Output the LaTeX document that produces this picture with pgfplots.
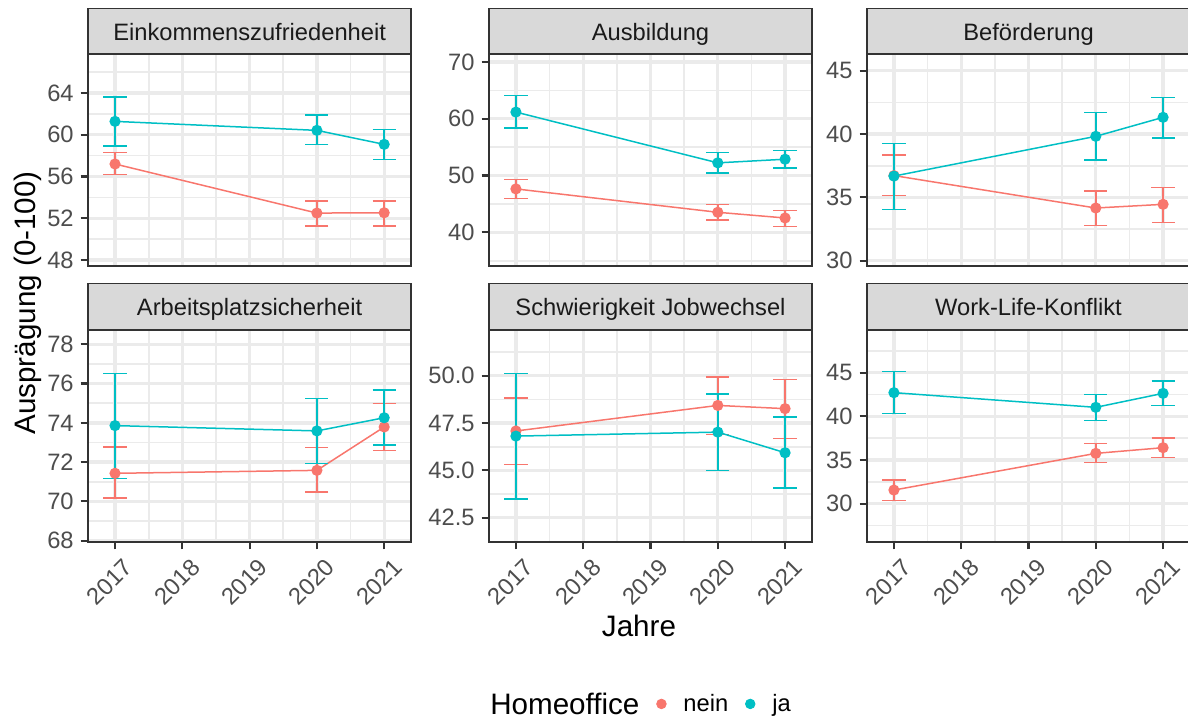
\documentclass[border=0pt]{standalone}
\usepackage{fontspec}
\setmainfont{Liberation Sans}
\usepackage{pgfplots}
\pgfplotsset{compat=1.18}
\definecolor{cnein}{HTML}{F8766D}
\definecolor{cja}{HTML}{00BFC4}
\definecolor{gridc}{HTML}{EBEBEB}
\definecolor{gray20}{HTML}{333333}
\definecolor{gray30}{HTML}{4D4D4D}
\definecolor{stripfill}{HTML}{D9D9D9}
\definecolor{gray10}{HTML}{1A1A1A}
\newcommand{\ticksize}{\fontsize{11.85}{14}\selectfont}
\newcommand{\titlesize}{\fontsize{14.8}{17}\selectfont}
\pgfplotsset{
 panel/.style={
  width=161.5pt, height=106.25pt, scale only axis, anchor=north west,
  xmin=2016.6, xmax=2021.4,
  xtick={2017,2018,2019,2020,2021},
  minor xtick={2017.5,2018.5,2019.5,2020.5},
  grid=both,
  major grid style={line width=1.65pt, color=gridc},
  minor grid style={line width=0.85pt, color=gridc},
  axis line style={line width=1.1pt, color=gray20},
  tick align=outside, major tick length=3.7pt, minor tick length=0pt,
  tick style={line width=1.1pt, color=gray20},
  xtick pos=bottom, ytick pos=left,
  tick label style={font=\ticksize, color=gray30},
  /pgf/number format/assume math mode=true,
  /pgf/number format/1000 sep={},
 },
 toprow/.style={xticklabels={}, xtick style={draw=none}},
 bottomrow/.style={xticklabel style={rotate=45, anchor=north east, inner sep=0pt, xshift=0pt, yshift=-5.3pt}},
 nein/.style={color=cnein, line width=0.75pt, mark=*, mark size=2.4pt,
  mark options={draw=none, fill=cnein},
  error bars/.cd, y dir=both, y explicit,
  error bar style={line width=0.75pt, color=cnein},
  error mark options={rotate=90, line width=0.75pt, mark size=5.8pt, color=cnein}},
 ja/.style={color=cja, line width=0.75pt, mark=*, mark size=2.4pt,
  mark options={draw=none, fill=cja},
  error bars/.cd, y dir=both, y explicit,
  error bar style={line width=0.75pt, color=cja},
  error mark options={rotate=90, line width=0.75pt, mark size=5.8pt, color=cja}},
}
\begin{document}
\begin{tikzpicture}[x=1pt,y=1pt]
\useasboundingbox (0,0) rectangle (594,-360);
% Panel 1
\begin{axis}[panel, toprow, at={(44.05pt,-26.75pt)},
  ymin=47.43, ymax=67.78, ytick={48,52,56,60,64}, minor ytick={50,54,58,62,66}]
\addplot[nein] coordinates {(2017,57.2) += (0,1.08) -= (0,1.03) (2020,52.5) += (0,1.15) -= (0,1.22) (2021,52.53) += (0,1.12) -= (0,1.25)};
\addplot[ja] coordinates {(2017,61.28) += (0,2.34) -= (0,2.36) (2020,60.42) += (0,1.47) -= (0,1.37) (2021,59.08) += (0,1.44) -= (0,1.47)};
\end{axis}
% Panel 2
\begin{axis}[panel, toprow, at={(244.5pt,-26.75pt)},
  ymin=34.07, ymax=71.5, ytick={40,50,60,70}, minor ytick={35,45,55,65}]
\addplot[nein] coordinates {(2017,47.65) += (0,1.64) -= (0,1.65) (2020,43.53) += (0,1.35) -= (0,1.35) (2021,42.53) += (0,1.35) -= (0,1.47)};
\addplot[ja] coordinates {(2017,61.18) += (0,2.88) -= (0,2.83) (2020,52.24) += (0,1.82) -= (0,1.83) (2021,52.88) += (0,1.53) -= (0,1.59)};
\end{axis}
% Panel 3
\begin{axis}[panel, toprow, at={(433.5pt,-26.75pt)},
  ymin=29.58, ymax=46.36, ytick={30,35,40,45}, minor ytick={32.5,37.5,42.5}]
\addplot[nein] coordinates {(2017,36.72) += (0,1.62) -= (0,1.56) (2020,34.16) += (0,1.34) -= (0,1.37) (2021,34.45) += (0,1.34) -= (0,1.42)};
\addplot[ja] coordinates {(2017,36.68) += (0,2.58) -= (0,2.65) (2020,39.82) += (0,1.89) -= (0,1.87) (2021,41.32) += (0,1.57) -= (0,1.64)};
\end{axis}
% Panel 4
\begin{axis}[panel, bottomrow, at={(44.05pt,-164.75pt)},
  ymin=67.93, ymax=78.755, ytick={68,70,72,74,76,78}, minor ytick={69,71,73,75,77}]
\addplot[nein] coordinates {(2017,71.43) += (0,1.34) -= (0,1.27) (2020,71.58) += (0,1.16) -= (0,1.10) (2021,73.79) += (0,1.19) -= (0,1.21)};
\addplot[ja] coordinates {(2017,73.86) += (0,2.66) -= (0,2.70) (2020,73.59) += (0,1.66) -= (0,1.65) (2021,74.26) += (0,1.41) -= (0,1.39)};
\end{axis}
% Panel 5
\begin{axis}[panel, bottomrow, at={(244.5pt,-164.75pt)},
  ymin=41.215, ymax=52.44, ytick={42.5,45,47.5,50}, minor ytick={43.75,46.25,48.75,51.25},
  yticklabel style={/pgf/number format/.cd, fixed, fixed zerofill, precision=1},
  legend style={draw=none, fill=none, at={(0.469,-0.762)}, anchor=center,
    legend columns=-1, font=\ticksize, text=black,
    nodes={inner sep=0pt},
    /tikz/every even column/.append style={column sep=0pt},
    /tikz/every odd column/.append style={column sep=0pt}},
  legend image code/.code={\path[draw=none, fill=none] (0pt,-2pt) rectangle (22pt,2pt); \draw[#1] plot coordinates {(11pt,0pt)};}]
\addplot[forget plot, nein] coordinates {(2017,47.08) += (0,1.74) -= (0,1.76) (2020,48.43) += (0,1.50) -= (0,1.53) (2021,48.26) += (0,1.53) -= (0,1.59)};
\addplot[forget plot, ja] coordinates {(2017,46.81) += (0,3.30) -= (0,3.31) (2020,47.02) += (0,2.01) -= (0,2.04) (2021,45.93) += (0,1.90) -= (0,1.85)};
\addlegendimage{empty legend}
\addlegendentry{\raisebox{-1.6pt}{\titlesize Homeoffice}}
\addlegendimage{only marks, mark=*, mark size=2.4pt, color=cnein, mark options={draw=none, fill=cnein}}
\addlegendentry{nein}
\addlegendimage{only marks, mark=*, mark size=2.4pt, color=cja, mark options={draw=none, fill=cja}}
\addlegendentry{ja}
\end{axis}
% Panel 6
\begin{axis}[panel, bottomrow, at={(433.5pt,-164.75pt)},
  ymin=25.61, ymax=49.94, ytick={30,35,40,45}, minor ytick={27.5,32.5,37.5,42.5,47.5}]
\addplot[nein] coordinates {(2017,31.56) += (0,1.15) -= (0,1.18) (2020,35.76) += (0,1.11) -= (0,1.07) (2021,36.41) += (0,1.11) -= (0,1.10)};
\addplot[ja] coordinates {(2017,42.71) += (0,2.40) -= (0,2.37) (2020,41.03) += (0,1.45) -= (0,1.49) (2021,42.63) += (0,1.42) -= (0,1.37)};
\end{axis}
% strips
\foreach \x/\t in {44.05/Einkommenszufriedenheit, 244.5/Ausbildung, 433.5/Beförderung} {
  \draw[fill=stripfill, draw=gray20, line width=0.8pt] (\x,-4.15) rectangle (\x+161.5,-26.75);
  \node[text=gray10, font=\ticksize, anchor=base, inner sep=0pt] at (\x+80.75,-20.35) {\t};
}
\foreach \x/\t in {44.05/Arbeitsplatzsicherheit, 244.5/Schwierigkeit Jobwechsel, 433.5/Work-Life-Konflikt} {
  \draw[fill=stripfill, draw=gray20, line width=0.8pt] (\x,-141.65) rectangle (\x+161.5,-164.75);
  \node[text=gray10, font=\ticksize, anchor=base, inner sep=0pt] at (\x+80.75,-157.85) {\t};
}
\node[font=\titlesize, rotate=90, anchor=center, inner sep=0pt] at (14,-151.5) {Ausprägung (0-100)};
\node[font=\titlesize, anchor=base, inner sep=0pt] at (319.5,-318.4) {Jahre};
\end{tikzpicture}
\end{document}
